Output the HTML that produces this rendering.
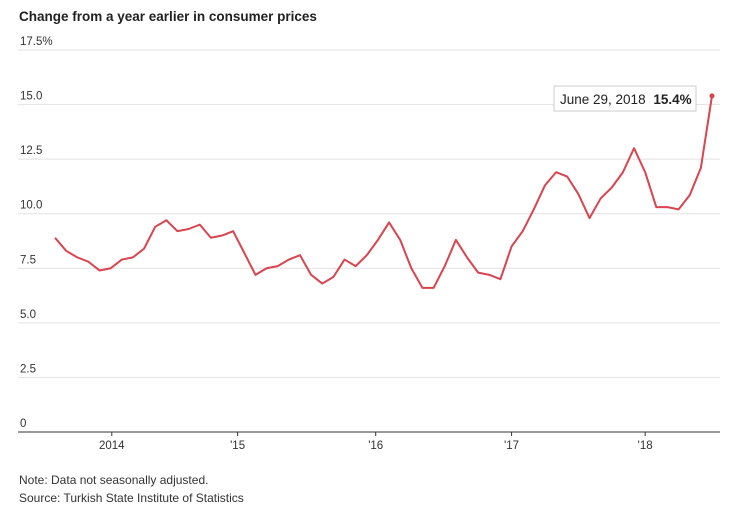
<!DOCTYPE html>
<html><head><meta charset="utf-8"><style>
body{margin:0;background:#fff;width:736px;height:508px;overflow:hidden;font-family:"Liberation Sans",sans-serif}
svg text{font-family:"Liberation Sans",sans-serif}
</style></head><body>
<svg id="chart" width="736" height="508" xmlns="http://www.w3.org/2000/svg">
<text x="19" y="21" font-size="13.5" font-weight="bold" fill="#222">Change from a year earlier in consumer prices</text>
<g id="grid"></g><g id="xaxis"></g><g id="series"></g>
<g>
<rect x="554" y="86" width="142" height="25" fill="#fff" stroke="#ccc"/>
<text x="560" y="104" font-size="13.5" fill="#222">June 29, 2018 <tspan font-weight="bold" dx="4">15.4%</tspan></text>
</g>
<text x="19" y="484" font-size="12" fill="#333">Note: Data not seasonally adjusted.</text>
<text x="19" y="502" font-size="12" fill="#333">Source: Turkish State Institute of Statistics</text>
</svg>
<script>
const values=[8.9,8.3,8.0,7.8,7.4,7.5,7.9,8.0,8.4,9.4,9.7,9.2,9.3,9.5,8.9,9.0,9.2,8.2,7.2,7.5,7.6,7.9,8.1,7.2,6.8,7.1,7.9,7.6,8.1,8.8,9.6,8.8,7.5,6.6,6.6,7.6,8.8,8.0,7.3,7.2,7.0,8.5,9.2,10.2,11.3,11.9,11.7,10.9,9.8,10.7,11.2,11.9,13.0,11.9,10.3,10.3,10.2,10.85,12.1,15.4];
const yTicks=[0,2.5,5,7.5,10,12.5,15,17.5];
const yTickLabels=["0","2.5","5.0","7.5","10.0","12.5","15.0","17.5%"];
const xTickPos=[5.1,16.4,28.8,41.0,53.0];
const xTickLabels=["2014","'15","'16","'17","'18"];
const NS="http://www.w3.org/2000/svg";
const x=i=>55+i*(712-55)/59;
const y=v=>432-v*(432-50)/17.5;
function mk(t,a,p){const e=document.createElementNS(NS,t);for(const k in a)e.setAttribute(k,a[k]);p.appendChild(e);return e;}
const g=document.getElementById('grid');
yTicks.forEach((v,i)=>{
 if(v>0){const l=mk('line',{x1:18,x2:720,y1:y(v),y2:y(v),stroke:'#e2e2e2','stroke-width':1},g);
 
 }
 const t=mk('text',{x:20,y:y(v)-5,'font-size':11.5,fill:'#333'},g);t.textContent=yTickLabels[i];
 
 
});
const xa=document.getElementById('xaxis');
const ax=mk('line',{x1:18,x2:720,y1:432,y2:432,stroke:'#333','stroke-width':1},xa);


xTickPos.forEach((p,i)=>{
 mk('line',{x1:x(p),x2:x(p),y1:432,y2:436,stroke:'#333'},xa);
 const t=mk('text',{x:x(p),y:449,'font-size':11.5,fill:'#333','text-anchor':'middle'},xa);t.textContent=xTickLabels[i];
 
 
});
const s=document.getElementById('series');
const pl=mk('polyline',{points:values.map((v,i)=>x(i)+','+y(v)).join(' '),fill:'none',stroke:'#d9444f','stroke-width':2,'stroke-linejoin':'round'},s);


const last=values.length-1;
const dot=mk('circle',{cx:x(last),cy:y(values[last]),r:2.5,fill:'#d9444f'},s);


</script>
</body></html>
